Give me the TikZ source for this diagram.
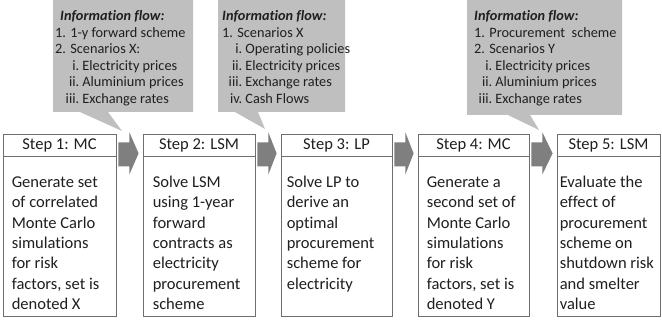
\documentclass[tikz,border=0pt]{standalone}
\usepackage{fontspec}
\setmainfont[Ligatures=NoCommon]{Carlito}
\usetikzlibrary{calc}

\definecolor{calloutfill}{HTML}{BFBFBF}
\definecolor{arrowfill}{HTML}{7F7F7F}
\definecolor{boxline}{HTML}{6E6E6E}
\definecolor{ink}{HTML}{1F1F1F}

\tikzset{
  stephead/.style={draw=boxline, line width=0.8pt, minimum height=22pt, inner sep=0pt,
    text=ink, font=\fontsize{16.5}{20}\selectfont},
  stepbody/.style={draw=boxline, line width=0.8pt, minimum height=160pt, inner sep=0pt, anchor=north},
  bodytext/.style={anchor=north west, inner sep=0pt, align=left, text=ink,
    font=\fontsize{16.5}{20.3}\selectfont},
  callouttext/.style={anchor=north west, inner sep=0pt, align=left, text=ink,
    font=\fontsize{14.3}{16.5}\selectfont},
  callout/.style={fill=calloutfill},
  blockarrow/.style={fill=arrowfill}
}

% block arrow between the header cells of two steps
\newcommand\steparrow[2]{%
  \fill[blockarrow] let \p1=(#1.south east), \p2=(#2.south west) in
    (\x1+2pt,\y1+14pt) -- (\x1+13pt,\y1+14pt) -- (\x1+13pt,\y1+24pt)
    -- (\x2-4pt,\y1+3pt) -- (\x1+13pt,\y1-18pt) -- (\x1+13pt,\y1-10pt)
    -- (\x1+2pt,\y1-10pt) -- cycle;}

\newcommand\rnum[2]{\makebox[#1][r]{#2}\ }

\begin{document}
\begin{tikzpicture}[x=1pt,y=-1pt]
\fill[white] (0,0) rectangle (662,320);
\useasboundingbox (0,0) rectangle (662,320);

% information-flow callouts
\fill[callout] (53,0) -- (193,0) -- (193,112) -- (108,112) -- (122,131) -- (80,112) -- (53,112) -- cycle;
\fill[callout] (218,0) -- (345,0) -- (345,112) -- (258,112) -- (265,129) -- (235,112) -- (218,112) -- cycle;
\fill[callout] (467,0) -- (622,0) -- (622,115) -- (530,115) -- (539,130) -- (508,115) -- (467,115) -- cycle;

\node[callouttext] (c1) at (55,9.6) {\rule{0pt}{11pt}\hspace*{5pt}\textbf{\textit{Information flow:}}\\
  1. 1-y forward scheme\\
  2. Scenarios X:\\
  \rnum{24pt}{i.}Electricity prices\\
  \rnum{24pt}{ii.}Aluminium prices\\
  \rnum{24pt}{iii.}Exchange rates};
\node[callouttext] (c2) at (222,9.6) {\rule{0pt}{11pt}\textbf{\textit{Information flow:}}\\
  1. Scenarios X\\
  \rnum{20pt}{i.}Operating policies\\
  \rnum{20pt}{ii.}Electricity prices\\
  \rnum{20pt}{iii.}Exchange rates\\
  \rnum{20pt}{iv.}Cash Flows};
\node[callouttext] (c3) at (474,9.6) {\rule{0pt}{11pt}\textbf{\textit{Information flow:}}\\
  1. Procurement~ scheme\\
  2. Scenarios Y\\
  \rnum{18pt}{i.}Electricity prices\\
  \rnum{18pt}{ii.}Aluminium prices\\
  \rnum{18pt}{iii.}Exchange rates};

% steps: header cell and body cell
\node[stephead, minimum width=113pt] (s1) at (59.5,145) {Step 1: MC};
\node[stepbody, minimum width=113pt] (b1) at (s1.south) {};
\node[stephead, minimum width=112pt] (s2) at (199,145) {Step 2: LSM};
\node[stepbody, minimum width=112pt] (b2) at (s2.south) {};
\node[stephead, minimum width=111pt] (s3) at (336.5,145) {Step 3: LP};
\node[stepbody, minimum width=111pt] (b3) at (s3.south) {};
\node[stephead, minimum width=111pt] (s4) at (473.5,145) {Step 4: MC};
\node[stepbody, minimum width=111pt] (b4) at (s4.south) {};
\node[stephead, minimum width=103pt] (s5) at (608.5,145) {Step 5: LSM};
\node[stepbody, minimum width=103pt] (b5) at (s5.south) {};

\node[bodytext] (t1) at ($(b1.north west)+(9,18)$) {\rule{0pt}{13pt}Generate set\\of correlated\\Monte Carlo\\simulations\\for risk\\factors, set is\\denoted X};
\node[bodytext] (t2) at ($(b2.north west)+(10,18)$) {\rule{0pt}{13pt}Solve LSM\\using 1-year\\forward\\contracts as\\electricity\\procurement\\scheme};
\node[bodytext] (t3) at ($(b3.north west)+(6,18)$) {\rule{0pt}{13pt}Solve LP to\\derive an\\optimal\\procurement\\scheme for\\electricity};
\node[bodytext] (t4) at ($(b4.north west)+(9,18)$) {\rule{0pt}{13pt}Generate a\\second set of\\Monte Carlo\\simulations\\for risk\\factors, set is\\denoted Y};
\node[bodytext] (t5) at ($(b5.north west)+(3,18)$) {\rule{0pt}{13pt}Evaluate the\\effect of\\procurement\\scheme on\\shutdown risk\\and smelter\\value};

% flow arrows between steps
\steparrow{s1}{s2}
\steparrow{s2}{s3}
\steparrow{s3}{s4}
\steparrow{s4}{s5}
\end{tikzpicture}
\end{document}
